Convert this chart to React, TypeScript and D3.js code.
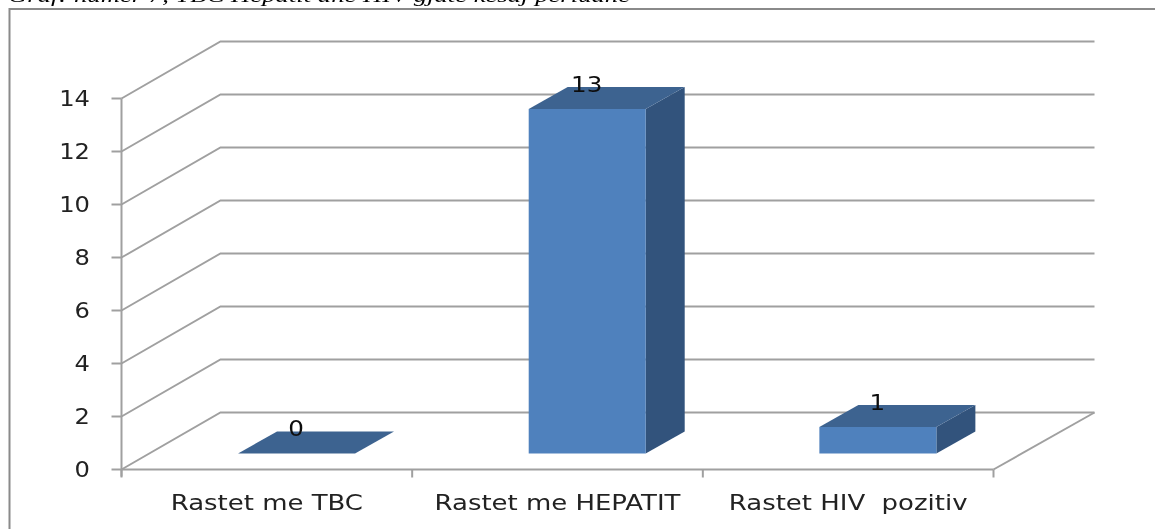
import React from "react";
import * as d3 from "d3";

const categories = ["Rastet me TBC", "Rastet me HEPATIT", "Rastet HIV  pozitiv"];
const values = [0, 13, 1];
const valueTicks = [0, 2, 4, 6, 8, 10, 12, 14];
const titleText = "Graf: numer 7, TBC Hepatit dhe HIV gjate kesaj periudhe";

const W = 1155;
const H = 529;
const FONT = "'DejaVu Sans', Verdana, sans-serif";
const GRID = "#a0a0a0";
const dx = 99;
const dy = -57;
const barDx = 39;
const barDy = -22;
const baseLift = 16;
const barOffset = 29.7;

const y = d3.scaleLinear().domain([0, 14]).range([469.5, 98.5]);
const x = d3.scaleBand<string>().domain(categories).range([121.5, 993.5]);
const barW = 117;

const poly = (pts: [number, number][]) => pts.map((p) => p.join(",")).join(" ");

const StretchText = ({ x: tx, y: ty, sx, size, anchor, fill, children }: any) => (
  <text
    transform={`translate(${tx},${ty}) scale(${sx},1)`}
    dy="0.36em"
    textAnchor={anchor}
    fontFamily={FONT}
    fontSize={size}
    fill={fill}
    style={{ whiteSpace: "pre" }}
  >
    {children}
  </text>
);

export default function App() {
  const left = x.range()[0];
  const right = x.range()[1];
  const y0 = y(0);
  return (
    <svg
      width={W}
      height={H}
      viewBox={`0 0 ${W} ${H}`}
      style={{ position: "fixed", left: 0, top: 0, display: "block", background: "#fff" }}
    >
      <defs>
        <filter id="soft" x="-2%" y="-2%" width="104%" height="104%">
          <feGaussianBlur stdDeviation="0.45" />
        </filter>
      </defs>
      <g filter="url(#soft)">
        <text
          x={8}
          y={2}
          textLength={622}
          lengthAdjust="spacingAndGlyphs"
          fontFamily="'Liberation Serif', serif"
          fontStyle="italic"
          fontSize={19}
          fill="#000"
        >
          {titleText}
        </text>
        <path d={`M9.5 ${H}V9H1155`} fill="none" stroke="#8a8a8a" strokeWidth={2} />

        {valueTicks.map((t) => (
          <g key={t}>
            <polyline
              points={poly([
                [left, y(t)],
                [left + dx, y(t) + dy],
                [right + dx + 2, y(t) + dy],
              ])}
              fill="none"
              stroke={GRID}
              strokeWidth={2}
            />
            <line x1={left - 10} x2={left} y1={y(t)} y2={y(t)} stroke={GRID} strokeWidth={2} />
            <StretchText x={90} y={y(t)} sx={1.1} size={22} anchor="end" fill="#222">
              {t}
            </StretchText>
          </g>
        ))}

        <line x1={left} x2={left} y1={y(14)} y2={y0 + 7} stroke={GRID} strokeWidth={2} />
        <line x1={left} x2={right} y1={y0} y2={y0} stroke={GRID} strokeWidth={2} />
        <line x1={right} x2={right + dx + 2} y1={y0} y2={y0 + dy} stroke={GRID} strokeWidth={2} />
        {[...categories.map((c) => x(c) as number), right].map((p, i) => (
          <line key={i} x1={p} x2={p} y1={y0} y2={y0 + 8} stroke={GRID} strokeWidth={2} />
        ))}

        {categories.map((c, i) => {
          const v = values[i];
          const bx = (x(c) as number) + (x.bandwidth() - barW) / 2 + barOffset;
          const base = y0 - baseLift;
          const top = y(v) - baseLift;
          return (
            <g key={c}>
              <polygon
                points={poly([
                  [bx + barW, base],
                  [bx + barW + barDx, base + barDy],
                  [bx + barW + barDx, top + barDy],
                  [bx + barW, top],
                ])}
                fill="#31527c"
              />
              <rect x={bx} y={top} width={barW} height={base - top} fill="#4f81bd" />
              <polygon
                points={poly([
                  [bx, top],
                  [bx + barDx, top + barDy],
                  [bx + barW + barDx, top + barDy],
                  [bx + barW, top],
                ])}
                fill="#3e6390"
              />
              <StretchText x={bx + 58} y={top - 25} sx={1.12} size={22} anchor="middle" fill="#111">
                {v}
              </StretchText>
            </g>
          );
        })}

        {categories.map((c) => (
          <StretchText
            key={c}
            x={(x(c) as number) + x.bandwidth() / 2}
            y={502}
            sx={1.18}
            size={22}
            anchor="middle"
            fill="#222"
          >
            {c}
          </StretchText>
        ))}
      </g>
    </svg>
  );
}
